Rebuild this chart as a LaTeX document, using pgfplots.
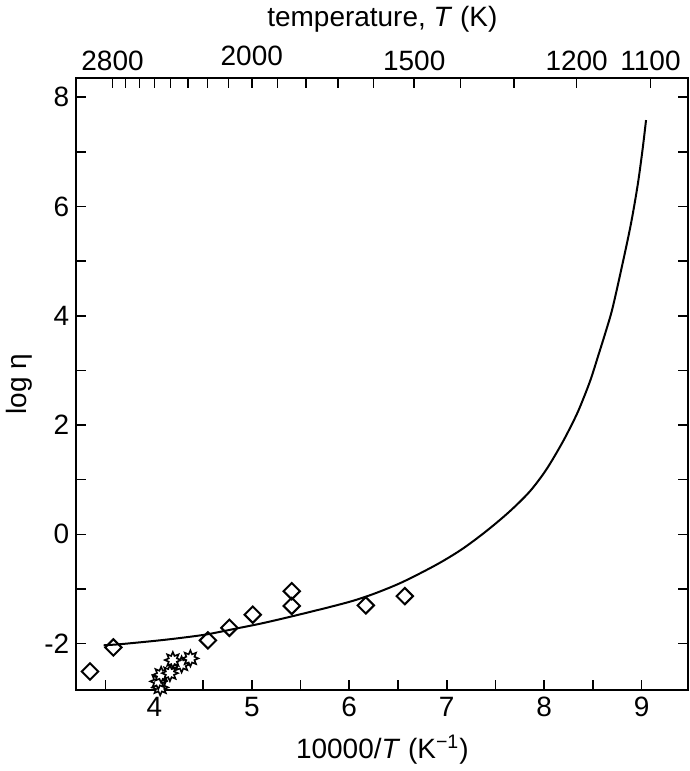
\documentclass[border=0pt]{standalone}
\usepackage{fontspec}
\setmainfont{Liberation Sans}
\usepackage{pgfplots}
\pgfplotsset{compat=1.18}

% 8-point burst used for the star symbols
\pgfdeclareplotmark{burst}{%
  \pgfpathmoveto{\pgfpointpolar{0}{\pgfplotmarksize}}%
  \pgfpathlineto{\pgfpointpolar{22.5}{0.55\pgfplotmarksize}}%
  \pgfpathlineto{\pgfpointpolar{45}{\pgfplotmarksize}}%
  \pgfpathlineto{\pgfpointpolar{67.5}{0.55\pgfplotmarksize}}%
  \pgfpathlineto{\pgfpointpolar{90}{\pgfplotmarksize}}%
  \pgfpathlineto{\pgfpointpolar{112.5}{0.55\pgfplotmarksize}}%
  \pgfpathlineto{\pgfpointpolar{135}{\pgfplotmarksize}}%
  \pgfpathlineto{\pgfpointpolar{157.5}{0.55\pgfplotmarksize}}%
  \pgfpathlineto{\pgfpointpolar{180}{\pgfplotmarksize}}%
  \pgfpathlineto{\pgfpointpolar{202.5}{0.55\pgfplotmarksize}}%
  \pgfpathlineto{\pgfpointpolar{225}{\pgfplotmarksize}}%
  \pgfpathlineto{\pgfpointpolar{247.5}{0.55\pgfplotmarksize}}%
  \pgfpathlineto{\pgfpointpolar{270}{\pgfplotmarksize}}%
  \pgfpathlineto{\pgfpointpolar{292.5}{0.55\pgfplotmarksize}}%
  \pgfpathlineto{\pgfpointpolar{315}{\pgfplotmarksize}}%
  \pgfpathlineto{\pgfpointpolar{337.5}{0.55\pgfplotmarksize}}%
  \pgfpathclose
  \pgfusepathqfillstroke
}

\pgfplotsset{
  every axis/.append style={
    scale only axis, width=306.5pt, height=306.5pt,
    xmin=3.2, xmax=9.48, ymin=-2.85, ymax=8.35,
    tick align=inside, major tick length=5pt, minor tick length=5pt,
    axis line style={line width=1pt}, tick style={line width=0.8pt, black},
    font=\fontsize{14}{16.5}\selectfont,
    /pgf/number format/assume math mode=true,
  },
}

\begin{document}
\begin{tikzpicture}
\begin{axis}[
    xtick={4,5,...,9}, minor xtick={3.5,4.5,...,9},
    ytick={-2,0,...,8}, minor ytick={-1,1,...,7},
    xtick pos=bottom, ytick pos=both, yticklabel pos=left,
    xlabel={10000/\textit{T} (K\textsuperscript{−1})},
    ylabel={log η},
    xlabel style={yshift=-2pt},
    ylabel style={yshift=-1pt},
]
\addplot[black, line width=1pt, smooth, tension=0.5] coordinates {
  (3.48,-2.03)(3.65,-2.01)(4.0,-1.95)(4.25,-1.90)(4.54,-1.83)(4.85,-1.72)
  (5.1,-1.63)(5.39,-1.51)(5.80,-1.33)(6.05,-1.21)(6.28,-1.07)(6.55,-0.87)
  (6.89,-0.56)(7.15,-0.28)(7.40,0.05)(7.64,0.41)(7.85,0.78)(8.02,1.18)
  (8.19,1.69)(8.33,2.18)(8.41,2.52)(8.48,2.85)(8.56,3.30)(8.63,3.70)
  (8.70,4.13)(8.80,4.92)(8.89,5.68)(8.96,6.40)(9.01,7.05)(9.045,7.58)
};
\addplot[only marks, mark=square, mark size=2.9pt,
  mark options={rotate=45, line width=1pt, fill=white, draw=black}] coordinates {
  (3.34,-2.51)(3.58,-2.07)(4.55,-1.94)(4.77,-1.71)(5.01,-1.47)
  (5.41,-1.04)(5.41,-1.31)(6.17,-1.30)(6.57,-1.13)
};
\addplot[only marks, mark=burst, mark size=4pt,
  mark options={line width=0.8pt, fill=white, draw=black}] coordinates {
  (4.06,-2.80)(4.04,-2.69)(4.07,-2.57)(4.16,-2.54)(4.28,-2.38)(4.19,-2.30)(4.37,-2.27)
};
\end{axis}
\begin{axis}[
    axis x line*=top, axis y line=none,
    xtick={3.5714,3.7037,3.8462,4.0,4.1667,4.3478,4.5455,4.7619,5.0,
           5.2632,5.5556,5.8824,6.25,6.6667,7.1429,7.6923,8.3333,9.0909},
    xticklabels={2800,{},{},{},{},{},{},{},\raisebox{2.5pt}{2000},
                 {},{},{},{},1500,{},{},1200,1100},
    xlabel={temperature, \textit{T} (K)},
]
\end{axis}
\end{tikzpicture}
\end{document}
